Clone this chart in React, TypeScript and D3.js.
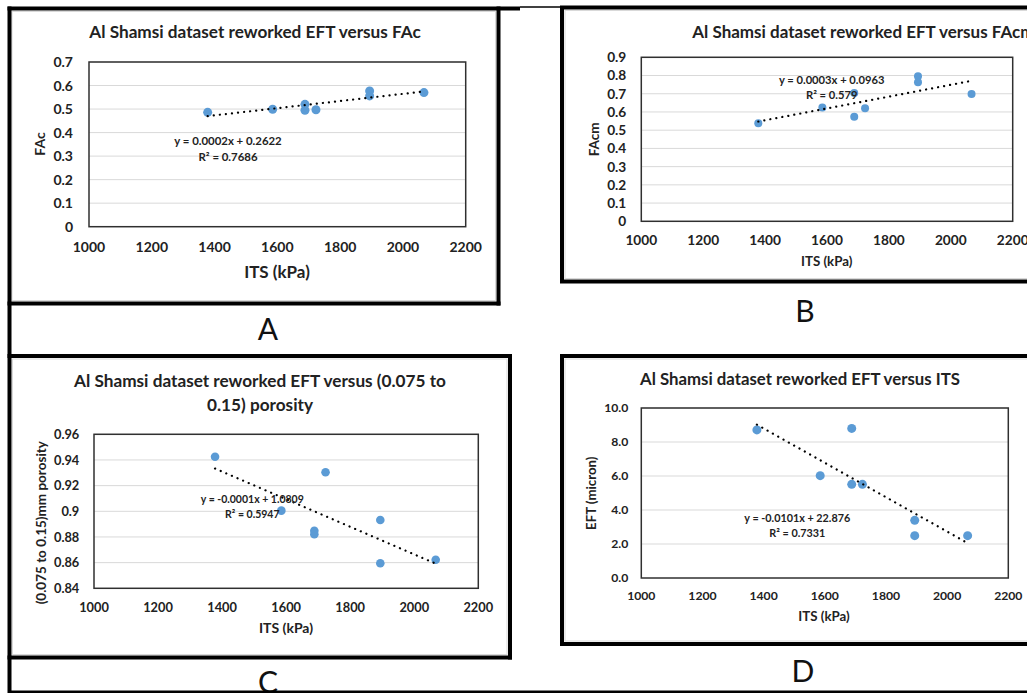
import React from 'react';
import * as d3 from 'd3';

// ---- data ----
const itsKPa = [1378, 1585, 1688, 1688, 1723, 1894, 1894, 2067];
const facValues = [0.486, 0.499, 0.52, 0.495, 0.497, 0.577, 0.556, 0.57];
const facmValues = [0.538, 0.624, 0.704, 0.574, 0.62, 0.796, 0.763, 0.699];
const porosityValues = [0.9425, 0.9005, 0.8849, 0.8821, 0.9304, 0.8932, 0.8595, 0.8623];
const eftValues = [8.71, 6.02, 8.8, 5.51, 5.51, 3.39, 2.49, 2.49];

const xTicks = [1000, 1200, 1400, 1600, 1800, 2000, 2200];
const facTicks = [0, 0.1, 0.2, 0.3, 0.4, 0.5, 0.6, 0.7];
const facmTicks = [0, 0.1, 0.2, 0.3, 0.4, 0.5, 0.6, 0.7, 0.8, 0.9];
const porosityTicks = [0.84, 0.86, 0.88, 0.9, 0.92, 0.94, 0.96];
const eftTicks = [0, 2, 4, 6, 8, 10];

const titleA = ['Al Shamsi dataset reworked EFT versus FAc'];
const titleB = ['Al Shamsi dataset reworked EFT versus FAcm'];
const titleC = ['Al Shamsi dataset reworked EFT versus (0.075 to', '0.15) porosity'];
const titleD = ['Al Shamsi dataset reworked EFT versus ITS'];

const eqA = ['y = 0.0002x + 0.2622', 'R² = 0.7686'];
const eqB = ['y = 0.0003x + 0.0963', 'R² = 0.579'];
const eqC = ['y = -0.0001x + 1.0809', 'R² = 0.5947'];
const eqD = ['y = -0.0101x + 22.876', 'R² = 0.7331'];

const FONT = "Lato, 'Open Sans', 'DejaVu Sans', sans-serif";
const TXT = '#222';
const BLUE = '#5B9BD5';

const fmtGeneral = (v: number) => String(+v.toFixed(2));
const fmtOne = (v: number) => v.toFixed(1);

type Cfg = {
  values: number[];
  yDomain: [number, number];
  yTicks: number[];
  yFmt: (v: number) => string;
  left: number; right: number; top: number; bottom: number;
  title: string[]; titleX: number; titleY: number; titleSize: number; titleAnchor?: string; titleGap?: number;
  tickSize: number; yTickGap: number; xTickDy: number;
  xTitle: string; xTitleX: number; xTitleY: number; xTitleSize: number;
  yTitle: string; yTitleX: number; yTitleY: number; yTitleSize: number;
  eq: string[]; eqX: number; eqY: number; eqGap: number; eqSize: number;
  r: number;
};

function Panel({ c }: { c: Cfg }) {
  const x = d3.scaleLinear().domain([1000, 2200]).range([c.left, c.right]);
  const y = d3.scaleLinear().domain(c.yDomain).range([c.bottom, c.top]);
  const mx = d3.mean(itsKPa) as number;
  const my = d3.mean(c.values) as number;
  const sxy = d3.sum(itsKPa, (v, i) => (v - mx) * (c.values[i] - my));
  const sxx = d3.sum(itsKPa, (v) => (v - mx) * (v - mx));
  const slope = sxy / sxx;
  const icpt = my - slope * mx;
  const [x0, x1] = d3.extent(itsKPa) as [number, number];
  const trend = d3.line()([
    [x(x0), y(icpt + slope * x0)],
    [x(x1), y(icpt + slope * x1)],
  ]) as string;

  return (
    <g fontFamily={FONT} fill={TXT}>
      {c.title.map((t, i) => (
        <text key={i} x={c.titleX} y={c.titleY + i * (c.titleGap || 24)} textAnchor={c.titleAnchor || 'middle'}
          fontSize={c.titleSize} fontWeight={700}>{t}</text>
      ))}
      {c.yTicks.slice(1).map((t) => (
        <line key={t} x1={c.left} x2={c.right} y1={y(t)} y2={y(t)} stroke="#d9d9d9" strokeWidth={1} />
      ))}
      <rect x={c.left} y={c.top} width={c.right - c.left} height={c.bottom - c.top} fill="none" stroke="#303030" strokeWidth={1.5} />
      {c.yTicks.map((t) => (
        <text key={t} x={c.left - c.yTickGap} y={y(t)} dy="0.36em" textAnchor="end" fontSize={c.tickSize} fontWeight={700}>{c.yFmt(t)}</text>
      ))}
      {xTicks.map((t) => (
        <text key={t} x={x(t)} y={c.bottom + c.xTickDy} textAnchor="middle" fontSize={c.tickSize} fontWeight={700}>{t}</text>
      ))}
      <text x={c.xTitleX} y={c.xTitleY} textAnchor="middle" fontSize={c.xTitleSize} fontWeight={700}>{c.xTitle}</text>
      <text transform={`translate(${c.yTitleX},${c.yTitleY}) rotate(-90)`} textAnchor="middle" dy="0.36em" fontSize={c.yTitleSize} fontWeight={700}>{c.yTitle}</text>
      {itsKPa.map((v, i) => (
        <circle key={i} cx={x(v)} cy={y(c.values[i])} r={c.r} fill={BLUE} />
      ))}
      <path d={trend} fill="none" stroke="#000" strokeWidth={2.2} strokeDasharray="0.1 6" strokeLinecap="round" />
      {c.eq.map((t, i) => (
        <text key={i} x={c.eqX} y={c.eqY + i * c.eqGap} textAnchor="middle" fontSize={c.eqSize} fontWeight={700}>{t}</text>
      ))}
    </g>
  );
}

const panels: Cfg[] = [
  {
    values: facValues, yDomain: [0, 0.7], yTicks: facTicks, yFmt: fmtGeneral,
    left: 89, right: 465.7, top: 62, bottom: 226.7,
    title: titleA, titleX: 255, titleY: 38, titleSize: 17.2,
    tickSize: 14, yTickGap: 16, xTickDy: 25,
    xTitle: 'ITS (kPa)', xTitleX: 277, xTitleY: 278, xTitleSize: 17,
    yTitle: 'FAc', yTitleX: 40, yTitleY: 144, yTitleSize: 14,
    eq: eqA, eqX: 228, eqY: 145, eqGap: 15.7, eqSize: 11.4, r: 4.5,
  },
  {
    values: facmValues, yDomain: [0, 0.9], yTicks: facmTicks, yFmt: fmtGeneral,
    left: 641.3, right: 1012.7, top: 57.3, bottom: 221.3,
    title: titleB, titleX: 692.3, titleY: 38, titleSize: 17, titleAnchor: 'start',
    tickSize: 13.7, yTickGap: 15, xTickDy: 23.7,
    xTitle: 'ITS (kPa)', xTitleX: 826.7, xTitleY: 266, xTitleSize: 13.3,
    yTitle: 'FAcm', yTitleX: 594, yTitleY: 139.3, yTitleSize: 13.5,
    eq: eqB, eqX: 831.7, eqY: 84.3, eqGap: 15, eqSize: 11.2, r: 4,
  },
  {
    values: porosityValues, yDomain: [0.84, 0.96], yTicks: porosityTicks, yFmt: fmtGeneral,
    left: 94, right: 478.3, top: 434.3, bottom: 588.3,
    title: titleC, titleX: 260, titleY: 386.7, titleSize: 17.2, titleGap: 24,
    tickSize: 12.8, yTickGap: 14.7, xTickDy: 23.4,
    xTitle: 'ITS (kPa)', xTitleX: 286, xTitleY: 633.3, xTitleSize: 14,
    yTitle: '(0.075 to 0.15)mm porosity', yTitleX: 41, yTitleY: 522.7, yTitleSize: 13.5,
    eq: eqC, eqX: 252.3, eqY: 502.7, eqGap: 15, eqSize: 10.5, r: 4.3,
  },
  {
    values: eftValues, yDomain: [0, 10], yTicks: eftTicks, yFmt: fmtOne,
    left: 641.3, right: 1008.3, top: 408, bottom: 578,
    title: titleD, titleX: 800, titleY: 385, titleSize: 16.8,
    tickSize: 12.2, yTickGap: 13, xTickDy: 22,
    xTitle: 'ITS (kPa)', xTitleX: 824, xTitleY: 620.7, xTitleSize: 13.3,
    yTitle: 'EFT (micron)', yTitleX: 591, yTitleY: 493.3, yTitleSize: 13.2,
    eq: eqD, eqX: 797.3, eqY: 521.7, eqGap: 15.6, eqSize: 10.8, r: 4.5,
  },
];

const letters = [
  { t: 'A', x: 268, y: 340 },
  { t: 'B', x: 805, y: 322 },
  { t: 'C', x: 268, y: 693 },
  { t: 'D', x: 803, y: 681.7 },
];

export default function App() {
  const fw = 4;
  const gray = '#d9d9d9';
  return (
    <svg width={1027} height={693} style={{ position: 'absolute', left: 0, top: 0, background: '#fff' }}>
      <rect x={0} y={0} width={1027} height={693} fill="#fff" />
      {/* inner light borders of chart areas */}
      <rect x={12} y={11.5} width={483.5} height={289} fill="none" stroke={gray} strokeWidth={1} />
      <rect x={565} y={10.5} width={470} height={268} fill="none" stroke={gray} strokeWidth={1} />
      <rect x={12.5} y={359} width={494.5} height={295.5} fill="none" stroke={gray} strokeWidth={1} />
      <rect x={565} y={359} width={470} height={282} fill="none" stroke={gray} strokeWidth={1} />
      {/* frames */}
      <g stroke="#000" fill="none">
        <line x1={9.5} y1={6.5} x2={9.5} y2={693} strokeWidth={fw} />
        <line x1={7.5} y1={8.5} x2={520} y2={8.5} strokeWidth={fw} />
        <line x1={520} y1={7} x2={562} y2={7} strokeWidth={1.5} />
        <line x1={498.5} y1={6.5} x2={498.5} y2={305.5} strokeWidth={fw} />
        <line x1={7.5} y1={303.5} x2={500.5} y2={303.5} strokeWidth={fw} />
        <rect x={562} y={7.5} width={480} height={274} strokeWidth={fw} />
        <line x1={7.5} y1={356} x2={512} y2={356} strokeWidth={fw} />
        <line x1={510} y1={354} x2={510} y2={659.5} strokeWidth={fw} />
        <line x1={7.5} y1={657.5} x2={512} y2={657.5} strokeWidth={fw} />
        <rect x={562} y={356} width={480} height={288} strokeWidth={fw} />
      </g>
      {panels.map((c, i) => <Panel key={i} c={c} />)}
      {letters.map((l) => (
        <text key={l.t} x={l.x} y={l.y} textAnchor="middle" fontFamily={FONT} fontSize={30} fill="#111">{l.t}</text>
      ))}
      <line x1={8} y1={691.8} x2={1027} y2={691.8} stroke="#000" strokeWidth={2.6} />
    </svg>
  );
}
